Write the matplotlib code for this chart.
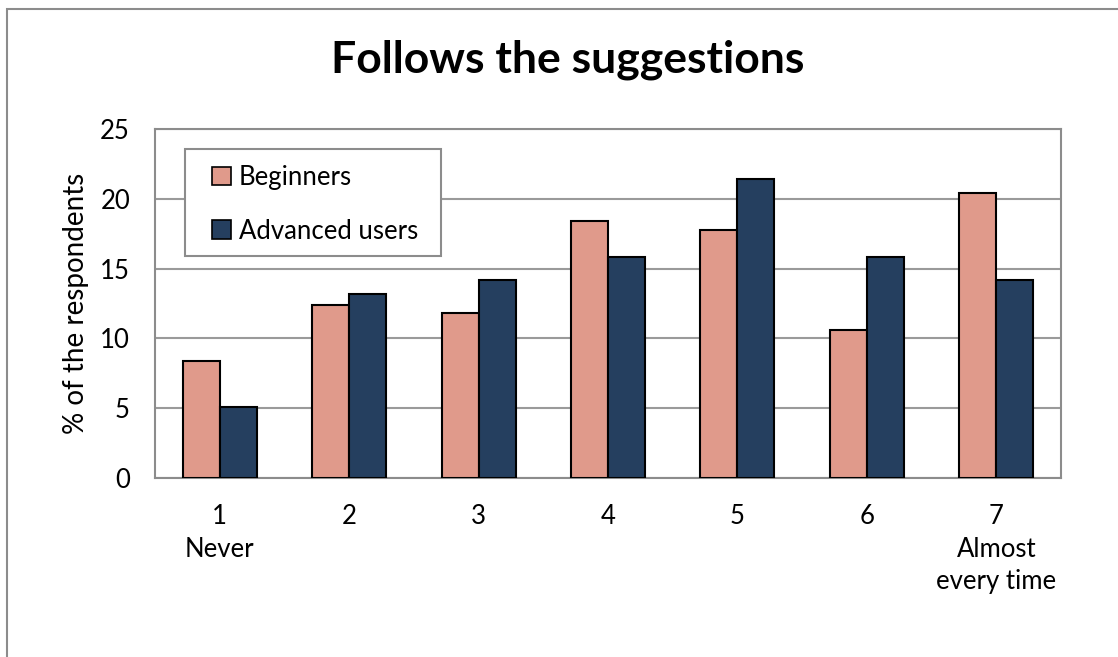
import numpy as np
import matplotlib.pyplot as plt
from matplotlib.patches import Rectangle

plt.rcParams["font.family"] = ["Lato", "DejaVu Sans"]

categories = ["1\nNever", "2", "3", "4", "5", "6", "7\nAlmost\nevery time"]
beginners = [8.4, 12.4, 11.8, 18.4, 17.8, 10.6, 20.4]
advanced = [5.1, 13.2, 14.2, 15.8, 21.4, 15.8, 14.2]
series_names = ["Beginners", "Advanced users"]
colors = ["#E09A8B", "#253F5F"]

fig = plt.figure(figsize=(11.18, 6.57), dpi=100)
W, H = 1118, 657
ax = fig.add_axes([155 / W, 1 - 478 / H, (1061 - 155) / W, (478 - 129) / H])

# chart area border
fig.patches.append(Rectangle((7 / W, -0.1), 1.2, 1 - 9 / H + 0.1,
                             transform=fig.transFigure, fill=False,
                             edgecolor="#8c8c8c", linewidth=1.5))

x = np.arange(len(categories))
bw = 0.286
ax.bar(x - bw / 2, beginners, bw, color=colors[0], edgecolor="black",
       linewidth=1.5, label=series_names[0], zorder=3)
ax.bar(x + bw / 2, advanced, bw, color=colors[1], edgecolor="black",
       linewidth=1.5, label=series_names[1], zorder=3)

ax.set_xlim(-0.5, len(categories) - 0.5)
ax.set_ylim(0, 25)
ax.set_yticks(range(0, 26, 5))
ax.set_xticks(x)
ax.set_xticklabels(categories, fontsize=18.5, linespacing=1.36, va="top")
ax.tick_params(axis="y", length=0, pad=18, labelsize=18.5)
ax.tick_params(axis="x", length=0, pad=19)
ax.yaxis.grid(True, color="#9a9a9a", linewidth=1.5, zorder=0)
for s in ax.spines.values():
    s.set_color("#8c8c8c")
    s.set_linewidth(1.5)

ax.set_ylabel("% of the respondents", fontsize=20, labelpad=8)
fig.text(568 / W, 1 - 60 / H, "Follows the suggestions", fontsize=32,
         fontweight="bold", ha="center", va="center")

# legend box drawn separately so it can be wider than its entries
ax.add_patch(Rectangle(((185 - 155) / 906, (478 - 256) / 349),
                       (441 - 185) / 906, (256 - 149) / 349,
                       transform=ax.transAxes, facecolor="white",
                       edgecolor="#8c8c8c", linewidth=1.5, zorder=4))
leg = ax.legend(loc="upper left",
                bbox_to_anchor=((212 - 155) / 906, (478 - 165) / 349),
                fontsize=18.5, frameon=False, borderpad=0,
                labelspacing=1.12, handlelength=0.75, handleheight=0.75,
                handletextpad=0.3, borderaxespad=0)
leg.set_zorder(5)
for h in leg.legend_handles:
    h.set_linewidth(1.2)

fig.savefig("out.png", dpi=100)
